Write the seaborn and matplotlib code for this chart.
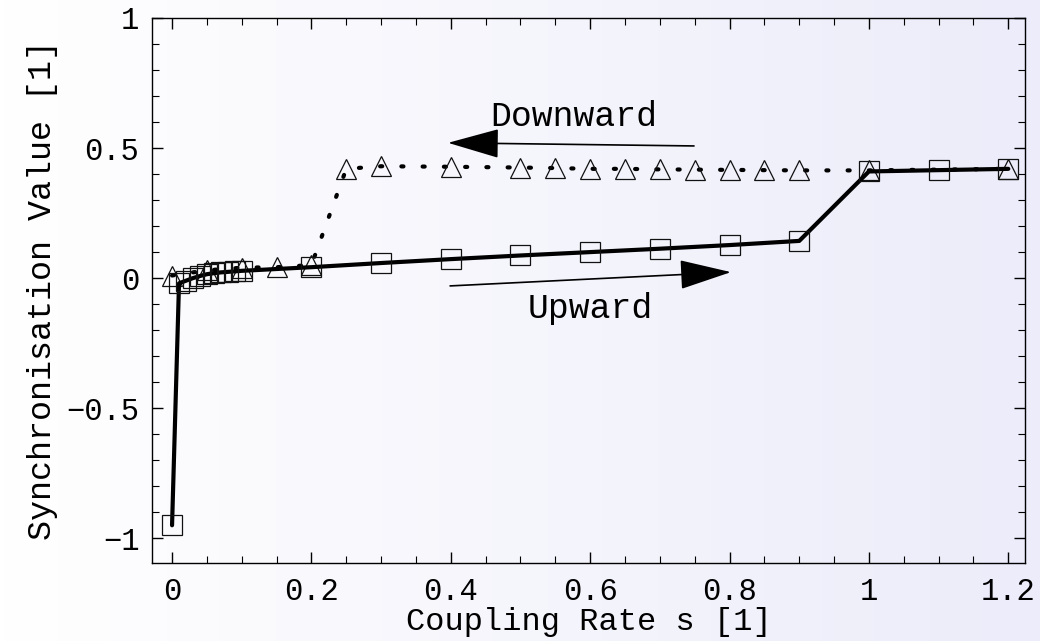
import numpy as np
import pandas as pd
import matplotlib
matplotlib.use("Agg")
import matplotlib.pyplot as plt
import seaborn as sns
from matplotlib.colors import LinearSegmentedColormap

# ---- data ----
up_x = [0.0, 0.01, 0.02, 0.03, 0.04, 0.05, 0.06, 0.07, 0.08, 0.09, 0.1,
        0.2, 0.3, 0.4, 0.5, 0.6, 0.7, 0.8, 0.9, 1.0, 1.1, 1.2]
up_y = [-0.95, -0.02, -0.01, 0.0, 0.008, 0.015, 0.019, 0.022, 0.024, 0.026, 0.028,
        0.042, 0.058, 0.073, 0.087, 0.10, 0.113, 0.127, 0.143, 0.41, 0.415, 0.42]
down_x = [0.0, 0.05, 0.1, 0.15, 0.2, 0.25, 0.3, 0.4, 0.5, 0.55, 0.6, 0.65,
          0.7, 0.75, 0.8, 0.85, 0.9, 1.0, 1.2]
down_y = [0.01, 0.03, 0.04, 0.042, 0.05, 0.42, 0.43, 0.428, 0.425, 0.423, 0.42, 0.42,
          0.418, 0.417, 0.416, 0.415, 0.414, 0.414, 0.42]
x_ticks = [0, 0.2, 0.4, 0.6, 0.8, 1.0, 1.2]
x_ticklabels = ["0", "0.2", "0.4", "0.6", "0.8", "1", "1.2"]
y_ticks = [-1, -0.5, 0, 0.5, 1]
y_ticklabels = ["\u22121", "\u22120.5", "0", "0.5", "1"]

sns.set_theme(style="ticks")
plt.rcParams['font.family'] = ['Liberation Mono', 'DejaVu Sans Mono']
plt.rcParams['text.color'] = 'black'
plt.rcParams['axes.labelcolor'] = 'black'
plt.rcParams['xtick.color'] = 'black'
plt.rcParams['ytick.color'] = 'black'

fig = plt.figure(figsize=(10.4, 6.41), dpi=100)

# gradient background
bg = fig.add_axes([0, 0, 1, 1], zorder=-10)
grad = np.linspace(0, 1, 256).reshape(1, -1)
cmap = LinearSegmentedColormap.from_list("bg", ["#ffffff", "#ececfa"])
bg.imshow(grad, aspect="auto", cmap=cmap, extent=[0, 1, 0, 1])
bg.set_axis_off()

ax = fig.add_axes([0.146, 0.1217, 0.8396, 0.8503])
ax.set_facecolor("none")

df_up = pd.DataFrame({"s": up_x, "v": up_y})
df_down = pd.DataFrame({"s": down_x, "v": down_y})

sns.lineplot(data=df_down, x="s", y="v", ax=ax, sort=False, estimator=None,
             color="black", linewidth=3.0, linestyle=(0, (0.5, 4.6)),
             marker="^", markersize=15,
             markerfacecolor="none", markeredgecolor="#111111", markeredgewidth=0.9)
ax.lines[-1].set_dash_capstyle("round")
sns.lineplot(data=df_up, x="s", y="v", ax=ax, sort=False, estimator=None,
             color="black", linewidth=3.0, marker="s", markersize=14,
             markerfacecolor="none", markeredgecolor="#111111", markeredgewidth=0.9)

ax.set_xlim(-0.029, 1.224)
ax.set_ylim(-1.095, 1.0)
ax.set_xticks(x_ticks)
ax.set_xticklabels(x_ticklabels)
ax.set_yticks(y_ticks)
ax.set_yticklabels(y_ticklabels)
ax.set_xticks(np.arange(0, 1.2001, 0.05), minor=True)
ax.set_yticks(np.arange(-1.0, 1.0001, 0.1), minor=True)
ax.tick_params(which="both", direction="in", top=True, right=True, colors="black",
               labelsize=22)
ax.tick_params(which="major", length=8, width=1.0)
ax.tick_params(which="minor", length=5, width=0.8)
ax.tick_params(axis="x", pad=10)
ax.tick_params(axis="y", pad=9)
for sp in ax.spines.values():
    sp.set_visible(True)
    sp.set_color("black")
    sp.set_linewidth(1.0)

ax.set_xlabel("Coupling Rate s [1]", fontsize=23, labelpad=0, color="black")
ax.set_ylabel("Synchronisation Value [1]", fontsize=24, labelpad=6, color="black")

# annotations
ax.annotate("", xy=(0.396, 0.52), xytext=(0.749, 0.508),
            arrowprops=dict(arrowstyle="-|>,head_length=1.65,head_width=0.47",
                            mutation_scale=20, color="black", lw=1.2,
                            shrinkA=0, shrinkB=0))
ax.text(0.576, 0.62, "Downward", fontsize=25, ha="center", va="center", color="black")
ax.annotate("", xy=(0.802, 0.023), xytext=(0.399, -0.03),
            arrowprops=dict(arrowstyle="-|>,head_length=1.65,head_width=0.47",
                            mutation_scale=20, color="black", lw=1.2,
                            shrinkA=0, shrinkB=0))
ax.text(0.6, -0.115, "Upward", fontsize=25, ha="center", va="center", color="black")

fig.savefig("out.png", dpi=100)
